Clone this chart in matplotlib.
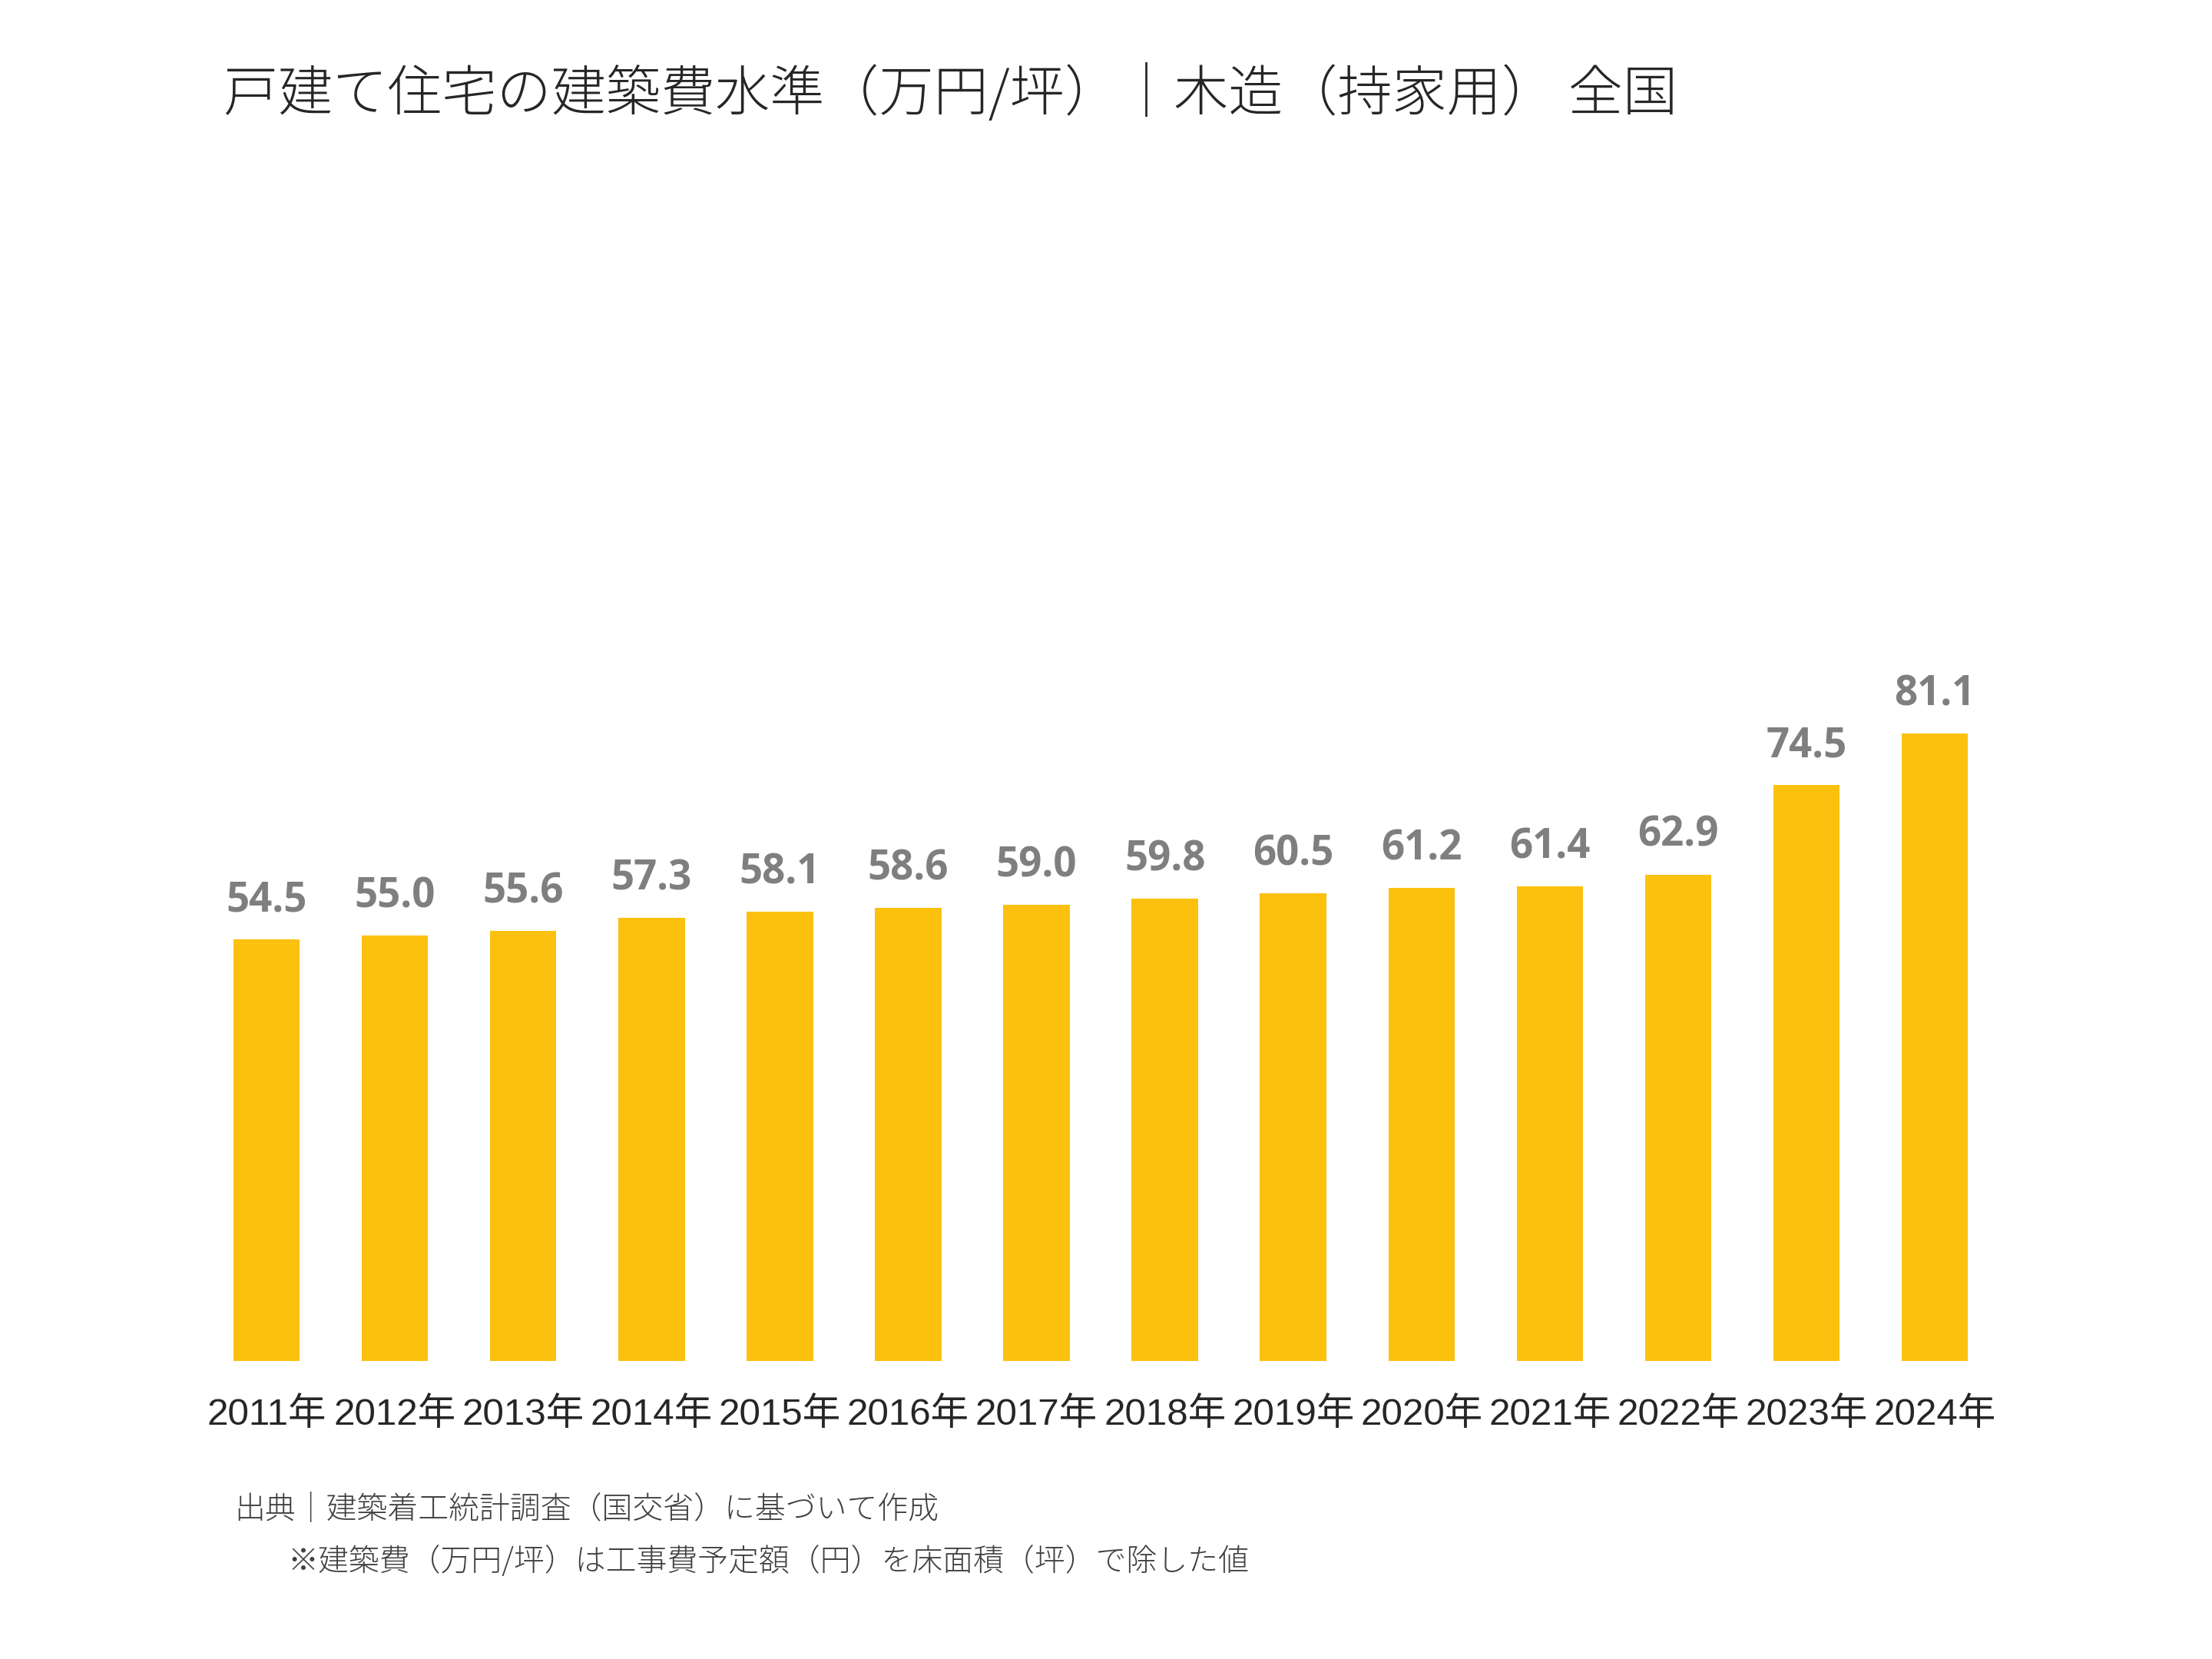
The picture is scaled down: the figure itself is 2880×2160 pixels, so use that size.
import matplotlib
matplotlib.use("Agg")
import matplotlib.pyplot as plt

# データ
years = ["2011年", "2012年", "2013年", "2014年", "2015年", "2016年", "2017年",
         "2018年", "2019年", "2020年", "2021年", "2022年", "2023年", "2024年"]
cost = [54.5, 55.0, 55.6, 57.3, 58.1, 58.6, 59.0, 59.8, 60.5, 61.2, 61.4, 62.9, 74.5, 81.1]

title = "戸建て住宅の建築費水準（万円/坪）｜木造（持家用） 全国"
note1 = "出典｜建築着工統計調査（国交省）に基づいて作成"
note2 = "※建築費（万円/坪）は工事費予定額（円）を床面積（坪）で除した値"

plt.rcParams["font.family"] = ["Noto Sans CJK JP", "DejaVu Sans"]

fig = plt.figure(figsize=(14.4, 10.8), dpi=200)
ax = fig.add_axes([0.0915, 0.1796, 0.8122, 0.6528])

x = range(len(years))
bars = ax.bar(x, cost, width=0.518, color="#FCC10F")

# 値ラベル
for xi, v in zip(x, cost):
    ax.annotate(f"{v:.1f}", (xi, v), xytext=(0, 8.5), textcoords="offset points",
                ha="center", va="bottom", fontsize=19, fontweight="bold",
                color="#7F7F7F", family=["Open Sans", "DejaVu Sans"])

ax.set_xlim(-0.5, len(years) - 0.5)
ax.set_ylim(0, 140)
ax.set_xticks(list(x))
ax.set_xticklabels(years, family=["Liberation Sans", "Noto Sans CJK JP"],
                   fontsize=17.8, color="#262626")
ax.tick_params(axis="x", length=0, pad=17)
ax.set_yticks([])
for s in ax.spines.values():
    s.set_visible(False)

fig.text(0.101, 0.943, title, fontsize=25.6, fontweight="light", color="#262626",
         va="center", ha="left")
fig.text(0.106, 0.090, note1, fontsize=14.35, fontweight="light", color="#404040",
         va="center", ha="left")
fig.text(0.130, 0.0585, note2, fontsize=14.35, fontweight="light", color="#404040",
         va="center", ha="left")

plt.savefig("out.png", dpi=200)
